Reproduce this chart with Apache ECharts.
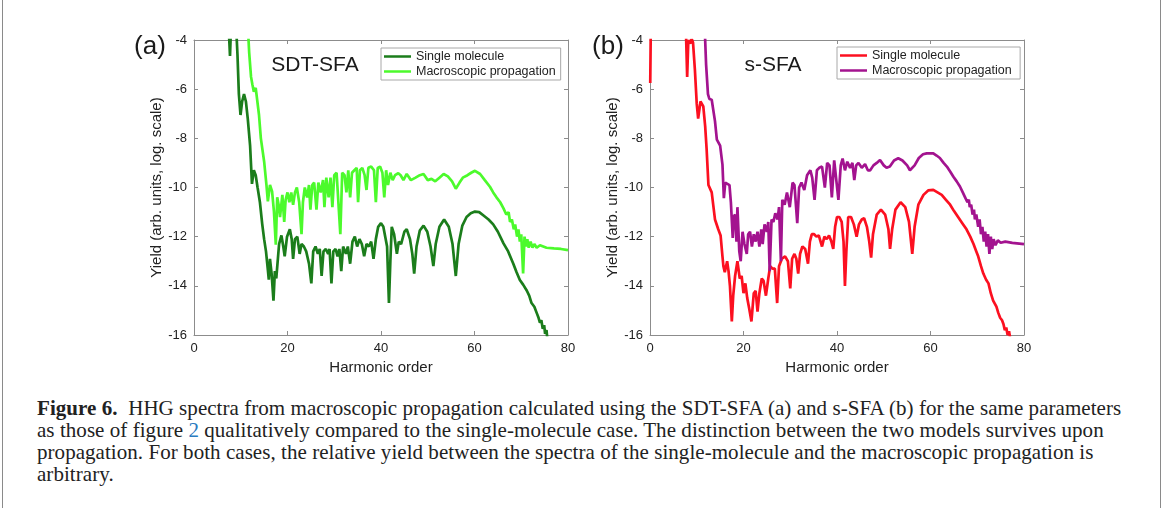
<!DOCTYPE html>
<html>
<head>
<meta charset="utf-8">
<script src="https://cdn.jsdelivr.net/npm/echarts@6/dist/echarts.min.js"></script>
<style>
  body { margin: 0; background: #fff; }
  #wrap { position: relative; width: 1165px; height: 508px; overflow: hidden; }
  #chart { position: absolute; left: 0; top: 0; width: 1165px; height: 390px; }
  .edge { position: absolute; top: 0; width: 1px; height: 508px; background: #8a8a8a; }
  #caption {
    position: absolute; left: 37px; top: 397px; width: 1115px;
    font-family: "Liberation Serif", "DejaVu Serif", serif;
    font-size: 21px; line-height: 22px; letter-spacing: 0.05px; color: #222; white-space: nowrap;
  }
  #caption b { font-weight: bold; }
  #caption .ref { color: #2a7bbf; }
</style>
</head>
<body>
<div id="wrap">
  <div class="edge" style="left:2px"></div>
  <div class="edge" style="left:1160px"></div>
  <div id="chart"></div>
  <div id="caption">
    <b>Figure 6.</b>&nbsp; HHG spectra from macroscopic propagation calculated using the SDT-SFA (a) and s-SFA (b) for the same parameters<br>
    as those of figure <span class="ref">2</span> qualitatively compared to the single-molecule case. The distinction between the two models survives upon<br>
    propagation. For both cases, the relative yield between the spectra of the single-molecule and the macroscopic propagation is<br>
    arbitrary.
  </div>
</div>
<script>
// harmonic order / log10 yield
var xTicks = [0, 20, 40, 60, 80];
var yTicks = [-16, -14, -12, -10, -8, -6, -4];

var sdtSingle = [
  [7.3,-3.0],[7.7,-4.65],[8.0,-3.0],
  [8.9,-3.0],[9.3,-4.6],[9.6,-6.2],[9.95,-7.05],[10.3,-6.5],[10.7,-6.2],[11.1,-6.5],[11.5,-7.2],[12.0,-8.3],
  [12.4,-9.85],[12.8,-9.3],[13.2,-9.5],[13.6,-10.0],[14.1,-10.6],[14.6,-11.5],[15.0,-12.1],[15.4,-12.6],
  [15.8,-13.35],[16.0,-13.75],[16.25,-12.9],[16.6,-13.5],[17.0,-14.6],[17.3,-13.4],[17.6,-13.7],[18.2,-12.3],
  [18.7,-11.95],[19.1,-12.4],[19.4,-12.8],[19.9,-12.0],[20.5,-11.7],[20.9,-12.1],[21.2,-12.9],[21.6,-12.1],
  [22.1,-12.0],[22.6,-12.7],[23.0,-12.3],[23.5,-12.4],[24.0,-12.6],[24.6,-13.1],[25.1,-13.9],[25.5,-12.6],
  [26.0,-12.4],[26.5,-12.7],[26.9,-12.5],[27.3,-13.6],[27.7,-12.6],[28.2,-12.5],[28.7,-12.7],[29.0,-12.5],
  [29.4,-13.9],[29.8,-12.6],[30.3,-12.5],[30.7,-12.8],[31.1,-12.5],[31.5,-13.4],[31.9,-12.4],[32.5,-12.7],
  [32.9,-12.4],[33.4,-13.1],[33.9,-12.2],[34.4,-12.0],[34.9,-12.4],[35.4,-12.1],[35.9,-12.3],[36.4,-12.8],
  [36.9,-12.3],[37.4,-12.4],[37.9,-12.2],[38.4,-12.9],[38.9,-12.1],[39.4,-11.6],[40.0,-11.45],[40.5,-11.6],
  [40.9,-11.65],[41.3,-12.4],[41.7,-14.7],[42.0,-13.0],[42.3,-11.6],[42.8,-11.9],[43.4,-12.7],[43.8,-12.2],
  [44.3,-12.3],[45.0,-11.8],[45.5,-11.7],[46.2,-12.1],[46.7,-12.7],[47.1,-13.5],[47.6,-12.4],[48.3,-11.75],
  [49.1,-11.55],[49.9,-11.8],[50.6,-12.4],[51.2,-13.2],[51.7,-12.3],[52.5,-11.6],[53.5,-11.3],[54.5,-11.6],
  [55.3,-12.3],[56.0,-13.6],[56.6,-12.3],[57.4,-11.55],[58.3,-11.2],[59.2,-11.05],[60.1,-10.98],[61.0,-11.0],
  [62.0,-11.15],[63.0,-11.3],[64.0,-11.5],[65.0,-11.8],[66.2,-12.27],[67.2,-12.6],[68.3,-13.1],[69.0,-13.45],
  [69.7,-13.76],[70.4,-13.95],[71.2,-14.2],[71.7,-14.4],[72.2,-14.7],[72.8,-14.85],[73.3,-15.1],[73.7,-15.3],
  [74.0,-15.5],[74.3,-15.4],[74.6,-15.75],[74.9,-15.6],[75.1,-15.95],[75.4,-15.8],[75.6,-16.2]
];

var sdtMacro = [
  [11.4,-3.0],[11.8,-4.5],[12.2,-5.5],[12.5,-5.82],[12.8,-6.1],[13.2,-5.95],[13.9,-7.04],[14.3,-8.0],
  [15.0,-8.94],[15.5,-9.9],[15.8,-10.56],[16.25,-9.9],[16.7,-10.16],[17.1,-10.97],[17.5,-12.33],[17.8,-10.4],
  [18.1,-10.7],[18.4,-11.2],[18.9,-10.3],[19.3,-11.4],[19.6,-10.5],[20.0,-10.2],[20.4,-10.6],[20.8,-10.2],
  [21.2,-10.7],[21.6,-10.2],[22.0,-10.0],[22.5,-10.6],[23.0,-11.9],[23.3,-10.6],[23.7,-10.0],[24.2,-10.4],
  [24.6,-9.9],[24.9,-10.9],[25.3,-9.9],[25.7,-9.8],[26.2,-10.9],[26.6,-9.8],[27.1,-10.2],[27.6,-9.7],
  [27.9,-10.8],[28.3,-9.6],[28.8,-10.4],[29.2,-9.6],[29.6,-10.8],[30.0,-9.5],[30.5,-9.4],[31.3,-11.9],
  [31.7,-9.4],[32.2,-9.5],[32.6,-10.2],[33.0,-9.3],[33.4,-10.4],[33.8,-9.4],[34.3,-9.3],[34.8,-9.2],
  [35.1,-10.6],[35.5,-9.3],[36.0,-9.2],[36.5,-9.5],[36.9,-10.1],[37.3,-9.2],[37.9,-9.15],[38.5,-9.3],
  [38.9,-10.6],[39.3,-9.2],[39.8,-9.15],[40.3,-9.4],[40.7,-10.4],[41.1,-9.3],[41.5,-9.9],[42.0,-9.4],
  [42.5,-9.7],[43.0,-9.5],[43.7,-9.42],[44.2,-9.5],[44.8,-9.7],[45.5,-9.45],[46.4,-9.7],[47.4,-9.6],
  [48.3,-9.5],[49.1,-9.45],[50.0,-9.7],[50.8,-9.65],[51.6,-9.75],[52.5,-9.6],[53.4,-9.45],[54.3,-9.55],
  [55.2,-9.75],[56.0,-10.05],[56.8,-9.8],[57.5,-9.6],[58.5,-9.5],[59.3,-9.4],[60.1,-9.32],[61.2,-9.45],
  [62.2,-9.7],[63.3,-9.97],[64.0,-10.2],[64.7,-10.4],[65.5,-10.6],[66.2,-10.85],[66.8,-11.1],[67.3,-11.0],
  [67.6,-11.4],[68.0,-11.3],[68.4,-11.7],[68.7,-11.5],[69.1,-12.0],[69.4,-11.7],[69.7,-12.2],[70.0,-11.9],
  [70.4,-13.5],[70.7,-12.0],[71.0,-12.4],[71.3,-12.1],[71.6,-12.45],[72.0,-12.2],[72.4,-12.45],[72.8,-12.3],
  [73.3,-12.45],[74.0,-12.35],[75.4,-12.45],[77.0,-12.48],[78.5,-12.5],[80.0,-12.55]
];

var ssfaSingle = [
  [0.05,-5.75],[0.2,-3.0],
  [7.6,-3.0],[7.95,-5.5],[8.2,-4.0],[8.6,-4.15],[8.9,-3.95],[9.2,-4.1],[9.6,-5.2],[10.0,-6.6],[10.3,-7.2],
  [10.8,-6.5],[11.4,-6.7],[11.8,-7.5],[12.1,-8.4],[12.5,-9.9],[13.2,-10.2],[13.9,-11.3],[14.6,-11.7],
  [15.1,-11.95],[15.5,-12.8],[15.7,-13.2],[16.0,-13.45],[16.5,-13.0],[16.8,-13.4],[17.1,-14.0],[17.5,-15.45],
  [17.8,-14.4],[18.2,-13.6],[18.7,-13.0],[19.2,-13.7],[19.6,-13.6],[20.0,-14.3],[20.4,-13.9],[20.8,-14.5],
  [21.2,-14.9],[21.7,-15.45],[22.2,-14.3],[22.6,-14.2],[23.0,-15.05],[23.4,-14.3],[23.9,-13.7],[24.3,-13.8],
  [24.8,-14.4],[25.3,-13.7],[25.7,-13.2],[26.2,-13.3],[26.7,-13.3],[27.2,-14.7],[27.6,-13.2],[28.2,-12.9],
  [28.9,-12.8],[29.5,-13.0],[30.0,-14.1],[30.4,-12.9],[30.9,-12.7],[31.3,-12.9],[31.7,-13.5],[32.1,-12.7],
  [32.6,-12.4],[33.2,-12.5],[33.8,-13.1],[34.2,-12.2],[34.6,-11.9],[35.1,-11.9],[35.6,-12.0],[36.1,-11.95],
  [36.8,-12.4],[37.3,-12.0],[37.8,-12.1],[38.3,-11.95],[38.8,-12.2],[39.2,-12.5],[39.6,-11.6],[40.0,-11.2],
  [40.5,-11.2],[41.0,-11.4],[41.4,-12.2],[41.7,-14.0],[42.0,-12.6],[42.4,-11.2],[43.0,-11.2],[43.6,-11.5],
  [44.2,-12.0],[44.7,-11.5],[45.3,-11.3],[45.8,-11.25],[46.4,-11.6],[46.9,-12.2],[47.3,-12.85],[47.7,-11.9],
  [48.5,-11.1],[49.4,-10.9],[50.3,-11.1],[51.0,-11.7],[51.35,-12.5],[51.8,-11.7],[52.5,-10.9],[53.6,-10.6],
  [54.6,-10.8],[55.4,-11.4],[56.1,-12.7],[56.6,-11.6],[57.4,-10.7],[58.5,-10.3],[59.5,-10.12],[60.6,-10.1],
  [61.5,-10.2],[62.4,-10.3],[63.3,-10.5],[64.2,-10.7],[65.0,-10.95],[65.9,-11.2],[66.8,-11.45],[67.7,-11.7],
  [68.5,-12.0],[69.2,-12.3],[69.8,-12.6],[70.2,-12.8],[70.8,-13.2],[71.3,-13.5],[71.9,-13.75],[72.4,-13.9],
  [72.9,-14.3],[73.4,-14.6],[74.1,-14.85],[74.5,-15.1],[74.9,-15.3],[75.3,-15.4],[75.6,-15.55],[75.9,-15.8],
  [76.2,-15.7],[76.5,-16.0],[76.8,-15.85],[77.1,-16.2]
];

var ssfaMacro = [
  [11.6,-3.0],[12.0,-5.0],[12.4,-6.2],[12.7,-6.4],[13.2,-6.43],[13.9,-7.3],[14.3,-8.05],[15.0,-8.3],
  [15.5,-9.07],[15.8,-10.43],[16.1,-9.8],[16.4,-9.75],[17.0,-9.9],[17.3,-10.6],[17.7,-12.05],[17.9,-11.2],
  [18.2,-11.1],[18.5,-12.2],[18.7,-10.8],[19.1,-12.6],[19.4,-13.0],[19.8,-11.8],[20.2,-12.3],[20.7,-12.7],
  [21.0,-11.9],[21.4,-11.8],[21.8,-12.4],[22.2,-11.9],[22.6,-12.2],[23.0,-11.8],[23.4,-12.4],[23.8,-11.7],
  [24.1,-12.3],[24.5,-11.5],[25.0,-11.8],[25.3,-11.4],[25.6,-13.4],[26.0,-11.3],[26.4,-11.4],[26.8,-11.05],
  [27.3,-11.3],[27.6,-10.8],[28.0,-13.0],[28.3,-10.5],[28.8,-10.7],[29.3,-10.2],[29.9,-10.8],[30.5,-9.8],
  [30.9,-9.9],[31.5,-11.45],[31.9,-10.0],[32.4,-9.8],[33.0,-10.1],[33.6,-9.5],[34.3,-9.3],[34.7,-9.6],
  [35.2,-10.5],[35.7,-9.3],[36.2,-9.2],[36.8,-9.15],[37.4,-10.0],[37.9,-9.0],[38.4,-9.1],[38.9,-10.4],
  [39.4,-8.9],[39.7,-8.88],[40.3,-10.5],[40.8,-9.1],[41.2,-8.82],[41.7,-9.3],[42.2,-8.95],[42.8,-9.2],
  [43.3,-9.0],[43.7,-9.7],[44.1,-9.1],[44.6,-9.0],[45.3,-9.2],[46.0,-9.05],[46.6,-9.3],[47.1,-9.3],
  [47.8,-9.1],[48.5,-9.0],[49.2,-8.88],[50.0,-9.1],[50.6,-9.2],[51.3,-9.15],[52.2,-8.9],[53.1,-8.81],
  [54.0,-8.9],[55.0,-9.1],[55.6,-9.3],[56.0,-9.3],[56.6,-9.1],[57.5,-8.8],[58.4,-8.65],[59.2,-8.61],
  [60.6,-8.61],[61.3,-8.7],[62.0,-8.8],[62.8,-9.0],[63.5,-9.15],[64.2,-9.35],[64.9,-9.56],[65.6,-9.75],
  [66.3,-9.96],[66.9,-10.2],[67.4,-10.4],[67.9,-10.6],[68.2,-10.5],[68.4,-10.8],[68.7,-10.7],[69.0,-11.1],
  [69.3,-10.9],[69.5,-11.3],[69.8,-11.1],[70.2,-11.6],[70.5,-11.3],[70.8,-11.9],[71.1,-11.6],[71.4,-12.2],
  [71.7,-11.8],[72.0,-12.4],[72.3,-11.9],[72.6,-12.7],[72.9,-12.0],[73.2,-12.5],[73.5,-12.1],[73.9,-12.35],
  [74.4,-12.15],[75.0,-12.25],[76.0,-12.2],[77.5,-12.25],[79.0,-12.28],[80.0,-12.3]
];

var axisGray = "#8c8c8c";
var labelFont = "Liberation Sans";

function xAx(gi, pos) {
  var bottom = pos == "bottom";
  return {
    type: "value", gridIndex: gi, position: pos,
    min: xTicks[0], max: xTicks[xTicks.length - 1], interval: 20,
    name: bottom ? "Harmonic order" : "", nameLocation: "middle", nameGap: 23,
    nameTextStyle: { fontSize: 15, color: "#222", fontFamily: labelFont },
    axisLine: { show: true, onZero: false, lineStyle: { color: axisGray, width: 1 } },
    axisTick: { show: true, inside: true, length: 4, lineStyle: { color: axisGray } },
    axisLabel: { show: bottom, fontSize: 13, color: "#222", fontFamily: labelFont, margin: 7 },
    splitLine: { show: false }
  };
}
function yAx(gi, pos) {
  var left = pos == "left";
  return {
    type: "value", gridIndex: gi, position: pos,
    min: yTicks[0], max: yTicks[yTicks.length - 1], interval: 2,
    name: left ? "Yield (arb. units, log. scale)" : "", nameLocation: "middle", nameGap: 29,
    nameTextStyle: { fontSize: 15, color: "#222", fontFamily: labelFont },
    axisLine: { show: true, onZero: false, lineStyle: { color: axisGray, width: 1 } },
    axisTick: { show: true, inside: true, length: 4, lineStyle: { color: axisGray } },
    axisLabel: { show: left, fontSize: 13, color: "#222", fontFamily: labelFont, margin: 7 },
    splitLine: { show: false }
  };
}
function line(name, data, color, xi, yi) {
  return {
    name: name, type: "line", data: data, xAxisIndex: xi, yAxisIndex: yi,
    showSymbol: false, clip: true, smooth: false,
    lineStyle: { color: color, width: 2.7 }, itemStyle: { color: color }
  };
}
function txt(s, x, y, size) {
  return {
    type: "text", silent: true,
    style: { text: s, x: x, y: y, font: size + "px " + labelFont, fill: "#1a1a1a",
      align: "center", verticalAlign: "middle", textAlign: "center", textVerticalAlign: "middle" }
  };
}

var chart = echarts.init(document.getElementById("chart"));
chart.setOption({
  animation: false,
  grid: [
    { left: 194, top: 40, width: 374, height: 295 },
    { left: 650, top: 40, width: 374, height: 295 }
  ],
  xAxis: [xAx(0, "bottom"), xAx(0, "top"), xAx(1, "bottom"), xAx(1, "top")],
  yAxis: [yAx(0, "left"), yAx(0, "right"), yAx(1, "left"), yAx(1, "right")],
  legend: [
    {
      left: 381, top: 48, orient: "vertical", data: ["Single molecule", "Macroscopic propagation"],
      icon: "rect", itemWidth: 27, itemHeight: 2.5, itemGap: 2, padding: [2, 5, 2, 3],
      borderColor: "#a8a8a8", borderWidth: 1, backgroundColor: "#fff",
      textStyle: { fontSize: 12.5, color: "#222", fontFamily: labelFont }
    },
    {
      left: 837, top: 47, orient: "vertical", data: ["Single molecule ", "Macroscopic propagation "],
      icon: "rect", itemWidth: 27, itemHeight: 2.5, itemGap: 2, padding: [2, 5, 2, 3],
      borderColor: "#a8a8a8", borderWidth: 1, backgroundColor: "#fff",
      textStyle: { fontSize: 12.5, color: "#222", fontFamily: labelFont }
    }
  ],
  graphic: [
    txt("(a)", 150, 47, 26),
    txt("(b)", 608, 47, 26),
    txt("SDT-SFA", 315, 65, 21),
    txt("s-SFA", 773, 65, 21)
  ],
  series: [
    line("Single molecule", sdtSingle, "#1b7d1b", 0, 0),
    line("Macroscopic propagation", sdtMacro, "#4cfa2c", 0, 0),
    line("Single molecule ", ssfaSingle, "#fc1020", 2, 2),
    line("Macroscopic propagation ", ssfaMacro, "#a3138f", 2, 2)
  ]
});
</script>
</body>
</html>
